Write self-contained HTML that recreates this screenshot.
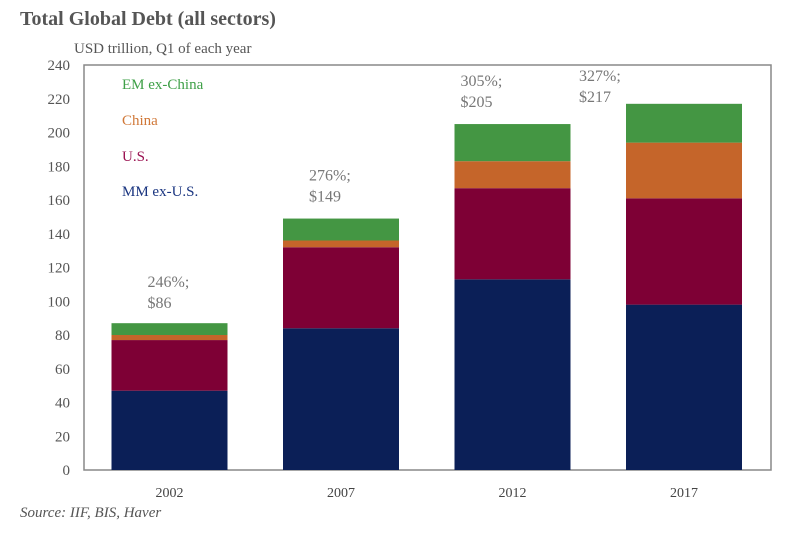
<!DOCTYPE html>
<html><head><meta charset="utf-8"><style>
body{margin:0;background:#fff;width:800px;height:533px;overflow:hidden}
svg{font-family:"Liberation Serif",serif}
</style></head><body>
<svg width="800" height="533">
<text x="20" y="25" font-size="20" font-weight="bold" fill="#555">Total Global Debt (all sectors)</text>
<text x="74" y="53" font-size="15" fill="#555">USD trillion, Q1 of each year</text>
<rect x="84" y="65" width="687" height="405" fill="none" stroke="#888" stroke-width="1.5"/>
<g id="ticks"></g><g id="bars"></g><g id="labels"></g>
<text x="122" y="89" font-size="15" fill="#3fa048">EM ex-China</text>
<text x="122" y="125" font-size="15" fill="#d07838">China</text>
<text x="122" y="161" font-size="15" fill="#9a1050">U.S.</text>
<text x="122" y="196" font-size="15" fill="#1a3580">MM ex-U.S.</text>
<text x="20" y="517" font-size="15" font-style="italic" fill="#555">Source: IIF, BIS, Haver</text>
</svg>
<script>
const years=["2002","2007","2012","2017"];
const mmExUS=[47,84,113,98];
const us=[30,48,54,63];
const china=[3,4,16,33];
const emExChina=[7,13,22,23];
const totalLabels=["246%;|$86","276%;|$149","305%;|$205","327%;|$217"];
const yTicks=[0,20,40,60,80,100,120,140,160,180,200,220,240];
const NS="http://www.w3.org/2000/svg";
const y0=470,yTop=65,yMax=240;
const yS=v=>y0-(v/yMax)*(y0-yTop);
const xC=i=>169.5+i*171.5;
const bw=116;
const labDx=[-22,-32,-52,-105];
const labDy=[-36,-38,-38,-23];
const series=[[mmExUS,"#0b1f57","mm-ex-us"],[us,"#7e0035","us"],[china,"#c5652a","china"],[emExChina,"#449643","em-ex-china"]];
function mk(t,a,p){const e=document.createElementNS(NS,t);for(const k in a)e.setAttribute(k,a[k]);p.appendChild(e);return e;}
const tg=document.getElementById("ticks");
yTicks.forEach(v=>{const t=mk("text",{x:70,y:yS(v)+5,"font-size":15,fill:"#555","text-anchor":"end"},tg);t.textContent=v;

});
const bg=document.getElementById("bars"),lg=document.getElementById("labels");
years.forEach((yr,i)=>{let cum=0;
series.forEach(([arr,col,nm])=>{const v=arr[i];const r=mk("rect",{x:xC(i)-bw/2,y:yS(cum+v),width:bw,height:yS(cum)-yS(cum+v),fill:col},bg);

cum+=v;});
const t=mk("text",{x:xC(i),y:497,"font-size":14,fill:"#444","text-anchor":"middle"},lg);t.textContent=yr;


const parts=totalLabels[i].split("|");const top=yS(cum);
const a=mk("text",{x:xC(i)+labDx[i],y:top+labDy[i],"font-size":16,fill:"#777"},lg);a.textContent=parts[0];


const b=mk("text",{x:xC(i)+labDx[i],y:top+labDy[i]+21,"font-size":16,fill:"#777"},lg);b.textContent=parts[1];


});
</script>
</body></html>
